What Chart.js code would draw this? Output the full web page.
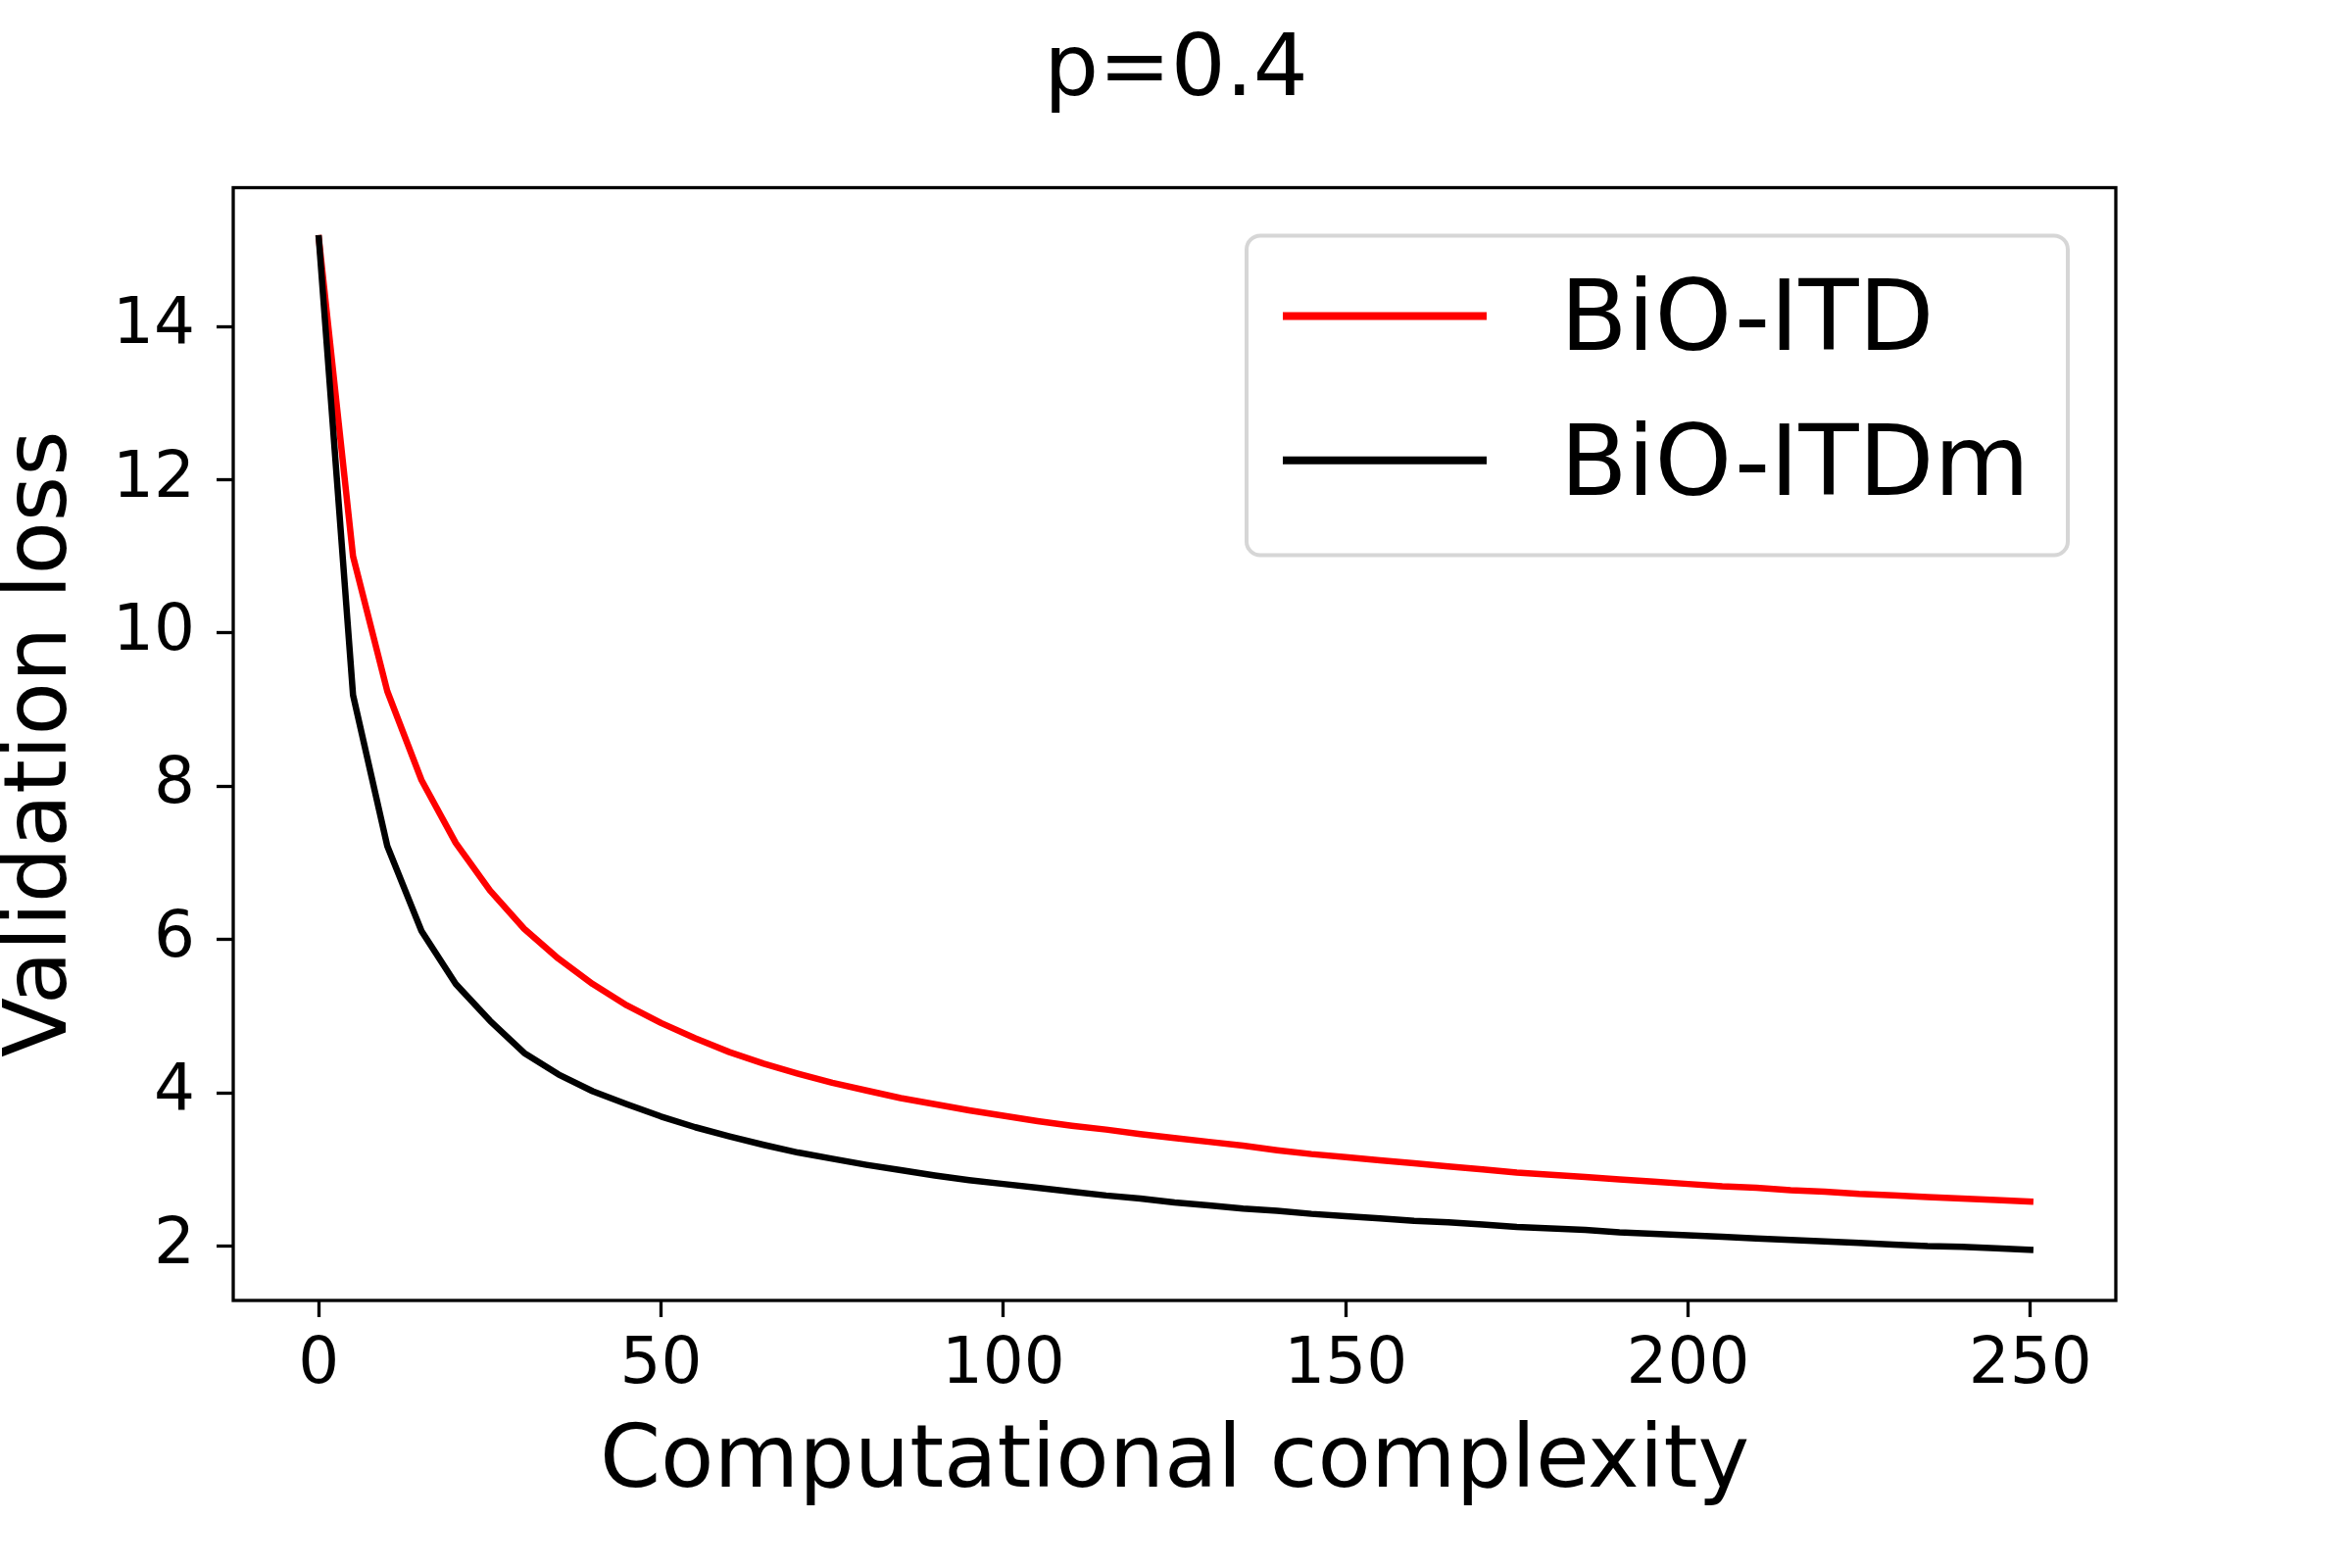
<!DOCTYPE html>
<html>
<head>
<meta charset="utf-8">
<title>p=0.4</title>
<script src="https://cdn.jsdelivr.net/npm/chart.js@4.4.0/dist/chart.umd.min.js"></script>
<style>
  html, body { margin: 0; padding: 0; background: #ffffff; }
  canvas { display: block; }
</style>
</head>
<body>
<canvas id="loss_chart" width="2400" height="1600" style="width:2400px;height:1600px"></canvas>
<script>
// -- DATA -- //
const complexity = [0, 5, 10, 15, 20, 25, 30, 35, 40, 45, 50, 55, 60, 65, 70, 75, 80, 85, 90, 95,
    100, 105, 110, 115, 120, 125, 130, 135, 140, 145, 150, 155, 160, 165, 170, 175, 180, 185, 190, 195,
    200, 205, 210, 215, 220, 225, 230, 235, 240, 245, 250];

const bio_itd_loss = [15.15, 11.00, 9.24, 8.08, 7.26, 6.64, 6.14, 5.75, 5.42, 5.14, 4.91, 4.71, 4.53, 4.38, 4.25, 4.13, 4.03, 3.93, 3.85, 3.77,
    3.70, 3.63, 3.57, 3.52, 3.46, 3.41, 3.36, 3.31, 3.25, 3.20, 3.16, 3.12, 3.08, 3.04, 3.00, 2.96, 2.93, 2.90, 2.87, 2.84,
    2.81, 2.78, 2.76, 2.73, 2.71, 2.68, 2.66, 2.64, 2.62, 2.60, 2.58];

const bio_itdm_loss = [15.15, 9.19, 7.22, 6.11, 5.42, 4.94, 4.52, 4.24, 4.02, 3.85, 3.69, 3.55, 3.43, 3.32, 3.22, 3.14, 3.06, 2.99, 2.92, 2.86,
    2.81, 2.76, 2.71, 2.66, 2.62, 2.57, 2.53, 2.49, 2.46, 2.42, 2.39, 2.36, 2.33, 2.31, 2.28, 2.25, 2.23, 2.21, 2.18, 2.16,
    2.14, 2.12, 2.10, 2.08, 2.06, 2.04, 2.02, 2.00, 1.99, 1.97, 1.95];

const x_ticks = [0, 50, 100, 150, 200, 250];
const y_ticks = [2, 4, 6, 8, 10, 12, 14];

const FONT = "DejaVu Sans";

function ToPoints(ys) {
    return complexity.map((x, i) => ({ x: x, y: ys[i] }));
}

// -- PLUGINS -- //

// matplotlib style box round the axes
const frame_plugin = {
    id: "frame_plugin",
    afterDatasetsDraw(chart) {
        const ctx = chart.ctx;
        const a = chart.chartArea;
        ctx.save();
        ctx.strokeStyle = "#000000";
        ctx.lineWidth = 3.3;
        ctx.strokeRect(a.left, a.top, a.right - a.left, a.bottom - a.top);
        ctx.restore();
    }
};

// legend inside the axes, upper right, with rounded grey frame
const legend_plugin = {
    id: "legend_plugin",
    afterDraw(chart) {
        const ctx = chart.ctx;
        const a = chart.chartArea;
        const w = 838, h = 326;
        const x0 = a.right - 49 - w;
        const y0 = a.top + 49;
        ctx.save();
        ctx.fillStyle = "rgba(255,255,255,0.8)";
        ctx.strokeStyle = "#d6d6d6";
        ctx.lineWidth = 4;
        ctx.beginPath();
        ctx.roundRect(x0, y0, w, h, 14);
        ctx.fill();
        ctx.stroke();

        ctx.font = "100px '" + FONT + "'";
        ctx.textAlign = "left";
        ctx.textBaseline = "alphabetic";
        chart.data.datasets.forEach((ds, i) => {
            const ly = y0 + 82 + i * 147.3;
            ctx.strokeStyle = ds.borderColor;
            ctx.lineWidth = 8;
            ctx.lineCap = "butt";
            ctx.beginPath();
            ctx.moveTo(x0 + 37, ly);
            ctx.lineTo(x0 + 245, ly);
            ctx.stroke();
            ctx.fillStyle = "#000000";
            ctx.fillText(ds.label, x0 + 320, y0 + 116.6 + i * 147.7);
        });
        ctx.restore();
    }
};

// -- CHART -- //
const ctx = document.getElementById("loss_chart").getContext("2d");

const tick_grid = {
    display: true,
    drawOnChartArea: false,
    drawTicks: true,
    tickLength: 17,
    tickColor: "#000000",
    tickWidth: 3.3
};

const loss_chart = new Chart(ctx, {
    type: "line",
    data: {
        datasets: [
            {
                label: "BiO-ITD",
                data: ToPoints(bio_itd_loss),
                borderColor: "#ff0000",
                backgroundColor: "#ff0000",
                borderWidth: 6.5,
                pointRadius: 0,
                tension: 0,
                fill: false,
                borderJoinStyle: "round",
                borderCapStyle: "square",
                order: 1
            },
            {
                label: "BiO-ITDm",
                data: ToPoints(bio_itdm_loss),
                borderColor: "#000000",
                backgroundColor: "#000000",
                borderWidth: 6.5,
                pointRadius: 0,
                tension: 0,
                fill: false,
                borderJoinStyle: "round",
                borderCapStyle: "square",
                order: 0
            }
        ]
    },
    options: {
        responsive: false,
        animation: false,
        devicePixelRatio: 1,
        layout: { padding: 0 },
        plugins: {
            legend: { display: false },
            tooltip: { enabled: false },
            title: {
                display: true,
                text: "p=0.4",
                color: "#000000",
                font: { family: FONT, size: 88, weight: "normal", lineHeight: 1 },
                padding: { top: 30, bottom: 73.5 }
            }
        },
        scales: {
            x: {
                type: "linear",
                min: -12.5,
                max: 262.5,
                afterBuildTicks: (scale) => { scale.ticks = x_ticks.map(v => ({ value: v })); },
                afterFit: (scale) => { scale.height = 273; },
                border: { display: false },
                grid: tick_grid,
                ticks: {
                    color: "#000000",
                    padding: 10,
                    maxRotation: 0,
                    font: { family: FONT, size: 66, lineHeight: 1.2 },
                    callback: (v) => String(v)
                },
                title: {
                    display: true,
                    text: "Computational complexity",
                    color: "#000000",
                    font: { family: FONT, size: 89, lineHeight: 1 },
                    padding: { top: 0, bottom: 62 }
                }
            },
            y: {
                type: "linear",
                min: 1.29,
                max: 15.81,
                afterBuildTicks: (scale) => { scale.ticks = y_ticks.map(v => ({ value: v })); },
                afterFit: (scale) => { scale.width = 238; },
                border: { display: false },
                grid: tick_grid,
                ticks: {
                    color: "#000000",
                    padding: 22,
                    font: { family: FONT, size: 66, lineHeight: 1.2 },
                    callback: (v) => String(v)
                },
                title: {
                    display: true,
                    text: "Validation loss",
                    color: "#000000",
                    font: { family: FONT, size: 89, lineHeight: 1 },
                    padding: { top: -0.5, bottom: 0 }
                }
            },
            // empty right margin so the title centres on the whole figure
            y_margin: {
                type: "linear",
                position: "right",
                display: true,
                afterFit: (scale) => { scale.width = 241; },
                border: { display: false },
                grid: { display: false },
                ticks: { display: false }
            }
        }
    },
    plugins: [frame_plugin, legend_plugin]
});
</script>
</body>
</html>
